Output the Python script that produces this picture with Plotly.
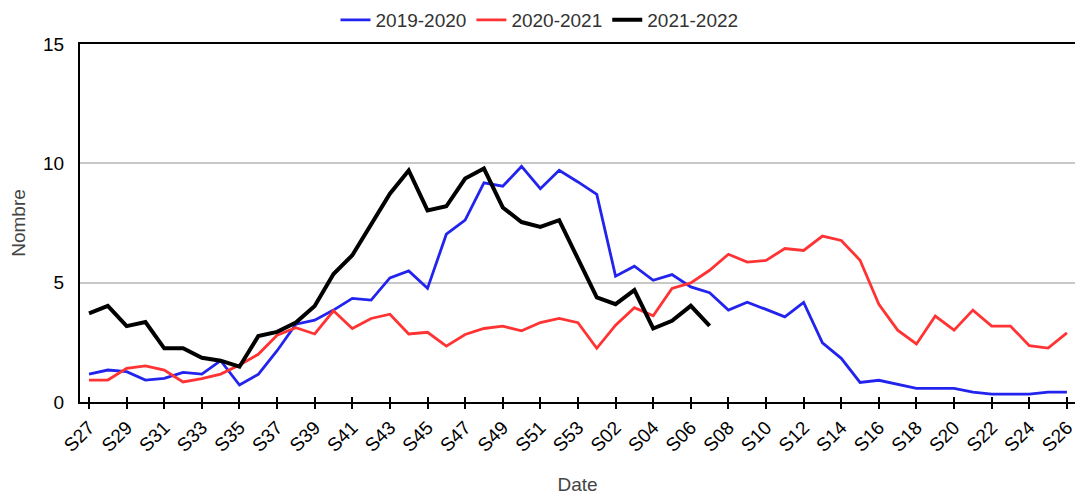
import plotly.graph_objects as go

weeks = ["S%02d" % w for w in range(27, 54)] + ["S%02d" % w for w in range(1, 27)]

s2019 = [1.17, 1.34, 1.27, 0.92, 0.99, 1.24, 1.17, 1.73, 0.71, 1.16, 2.15, 3.26, 3.43, 3.85,
         4.34, 4.27, 5.2, 5.49, 4.76, 7.03, 7.62, 9.18, 9.04, 9.87, 8.94, 9.71, 9.22,
         8.7, 5.27, 5.69, 5.1, 5.34, 4.82, 4.58, 3.85, 4.18, 3.88, 3.57, 4.17, 2.48, 1.83,
         0.82, 0.91, 0.74, 0.57, 0.57, 0.57, 0.41, 0.33, 0.33, 0.33, 0.41, 0.41]

s2020 = [0.92, 0.92, 1.41, 1.51, 1.34, 0.84, 0.98, 1.17, 1.55, 2.0, 2.8, 3.11, 2.85, 3.82,
         3.08, 3.5, 3.68, 2.85, 2.92, 2.34, 2.83, 3.08, 3.18, 2.98, 3.33, 3.5, 3.32,
         2.25, 3.22, 3.95, 3.61, 4.76, 4.99, 5.52, 6.19, 5.86, 5.93, 6.43, 6.35, 6.95, 6.77,
         5.94, 4.09, 3.01, 2.43, 3.6, 3.01, 3.85, 3.18, 3.18, 2.36, 2.26, 2.9]

s2021 = [3.71, 4.03, 3.18, 3.35, 2.25, 2.25, 1.85, 1.73, 1.48, 2.76, 2.94, 3.33, 4.02, 5.36,
         6.15, 7.48, 8.73, 9.7, 8.03, 8.2, 9.36, 9.78, 8.15, 7.54, 7.34, 7.62, 6.0,
         4.38, 4.1, 4.69, 3.08, 3.4, 4.03, 3.19]

tick_labels = weeks[0:27:2] + weeks[28::2]

FONT = "Liberation Sans, Arial, sans-serif"

fig = go.Figure()
fig.add_trace(go.Scatter(x=weeks, y=s2019, mode="lines", name="2019-2020",
                         line=dict(color="#2323ee", width=2.8)))
fig.add_trace(go.Scatter(x=weeks, y=s2020, mode="lines", name="2020-2021",
                         line=dict(color="#ff3333", width=2.8)))
fig.add_trace(go.Scatter(x=weeks[:len(s2021)], y=s2021, mode="lines", name="2021-2022",
                         line=dict(color="#000000", width=4)))

fig.update_layout(
    width=1079, height=495,
    margin=dict(l=80, r=4, t=44, b=93),
    paper_bgcolor="white", plot_bgcolor="white",
    font=dict(family=FONT, size=19, color="#000"),
    legend=dict(orientation="h", xref="container", x=0.5, xanchor="center",
                yref="container", y=1 - 20 / 495, yanchor="middle",
                font=dict(size=19, color="#333"), itemwidth=30),
    showlegend=True,
)

fig.update_xaxes(
    type="category", categoryorder="array", categoryarray=weeks,
    range=[-0.48, 52.43], automargin=False,
    tickmode="array", tickvals=tick_labels, ticktext=tick_labels,
    tickangle=-45, ticks="outside", ticklen=5, tickwidth=1.5, tickcolor="#000",
    minor=dict(ticks="inside", tickmode="array", tickvals=tick_labels, ticklen=5,
               tickwidth=1.5, tickcolor="#000", showgrid=False),
    showline=True, linecolor="#000", linewidth=2, mirror=True,
    showgrid=False, zeroline=False,
    tickfont=dict(size=19, color="#000"),
    title=dict(text="Date", font=dict(size=19, color="#444"), standoff=30),
)
fig.update_yaxes(
    range=[0, 15], tickvals=[0, 5, 10, 15], automargin=False,
    showline=True, linecolor="#000", linewidth=2,
    showgrid=True, gridcolor="#c8c8c8", gridwidth=2, zeroline=False,
    ticks="", ticklabelstandoff=10, tickfont=dict(size=19, color="#000"),
    title=dict(text="Nombre", font=dict(size=19, color="#444"), standoff=12),
)

fig.write_html("out.html", post_script="document.body.style.margin='0';",
               config={"displayModeBar": False})
